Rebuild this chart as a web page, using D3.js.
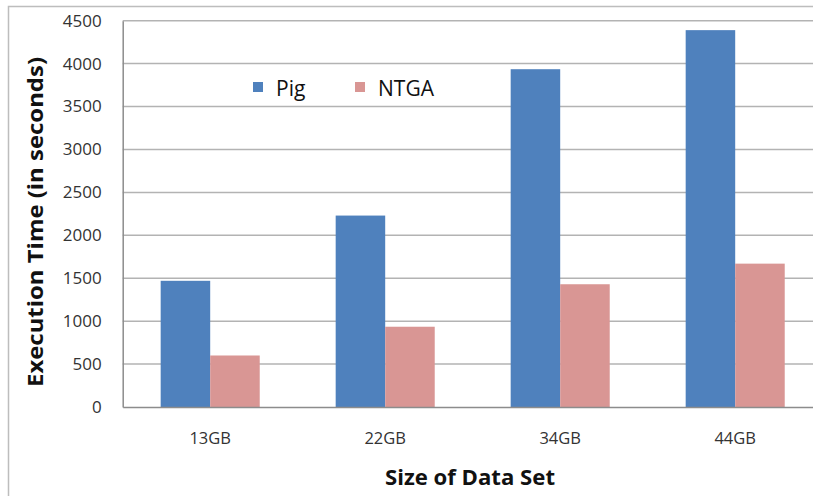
<!DOCTYPE html>
<html><head><meta charset="utf-8">
<script src="https://cdn.jsdelivr.net/npm/d3@7"></script>
<style>body{margin:0;background:#fff}</style>
</head><body>
<svg id="c" width="813" height="496"></svg>
<script>
const categories = ["13GB","22GB","34GB","44GB"];
const seriesNames = ["Pig","NTGA"];
const pig = [1470, 2230, 3935, 4390];
const ntga = [600, 935, 1430, 1670];
const yTicks = [0,500,1000,1500,2000,2500,3000,3500,4000,4500];
const colors = ["#4F81BD","#D99694"];

const svg = d3.select("#c");
const font = "'Open Sans', sans-serif";
// outer border
svg.append("rect").attr("x",8.5).attr("y",6.5).attr("width",900).attr("height",600)
  .attr("fill","none").attr("stroke","#bdbdbd").attr("stroke-width",1.5);

const L=122.7, R=822.7, T=20.7, B=407;
const x = d3.scaleBand().domain(categories).range([L,R]).paddingInner(0.434).paddingOuter(0.217);
const xs = d3.scaleBand().domain(seriesNames).range([0,x.bandwidth()]);
const y = d3.scaleLinear().domain([0,4500]).range([B,T]);

// gridlines
svg.append("g").selectAll("line").data(yTicks.filter(d=>d>0)).join("line")
  .attr("x1",L).attr("x2",R).attr("y1",d=>y(d)).attr("y2",d=>y(d))
  .attr("stroke","#b3b3b3").attr("stroke-width",1.5);

const data = categories.map((c,i)=>({c, vals:[pig[i],ntga[i]]}));
const g = svg.append("g");
data.forEach(d=>{
  d.vals.forEach((v,j)=>{
    g.append("rect").attr("x",x(d.c)+xs(seriesNames[j])).attr("width",xs.bandwidth())
      .attr("y",y(v)).attr("height",B-y(v)).attr("fill",colors[j]);
  });
});

// axes
const ya = d3.axisLeft(y).tickValues(yTicks).tickFormat(d3.format("d")).tickSize(0).tickPadding(21);
const yg = svg.append("g").attr("transform",`translate(${L},0)`).call(ya);
yg.select(".domain").attr("stroke","#8c8c8c").attr("stroke-width",1.5);
yg.selectAll("text").attr("font-family",font).attr("font-size",17).attr("fill","#333");

const xa = d3.axisBottom(x).tickSize(0).tickPadding(25);
const xg = svg.append("g").attr("transform",`translate(0,${B})`).call(xa);
xg.select(".domain").attr("stroke","#8c8c8c").attr("stroke-width",1.5);
xg.selectAll("text").attr("font-family",font).attr("font-size",16.5).attr("fill","#333");

// titles
svg.append("text").attr("transform","translate(43,222) rotate(-90)").attr("text-anchor","middle")
  .attr("font-family",font).attr("font-weight","bold").attr("font-size",21).attr("fill","#111")
  .attr("textLength",330).attr("lengthAdjust","spacingAndGlyphs")
  .text("Execution Time (in seconds)");
svg.append("text").attr("x",470).attr("y",485).attr("text-anchor","middle")
  .attr("font-family",font).attr("font-weight","bold").attr("font-size",21).attr("fill","#111")
  .attr("textLength",170).attr("lengthAdjust","spacingAndGlyphs")
  .text("Size of Data Set");

// legend
const legX=[253,355];
seriesNames.forEach((s,j)=>{
  svg.append("rect").attr("x",legX[j]).attr("y",82).attr("width",10).attr("height",10).attr("fill",colors[j]);
  svg.append("text").attr("x",legX[j]+23).attr("y",96).attr("font-family",font).attr("font-size",21)
    .attr("fill","#111").text(s);
});
</script>
</body></html>
